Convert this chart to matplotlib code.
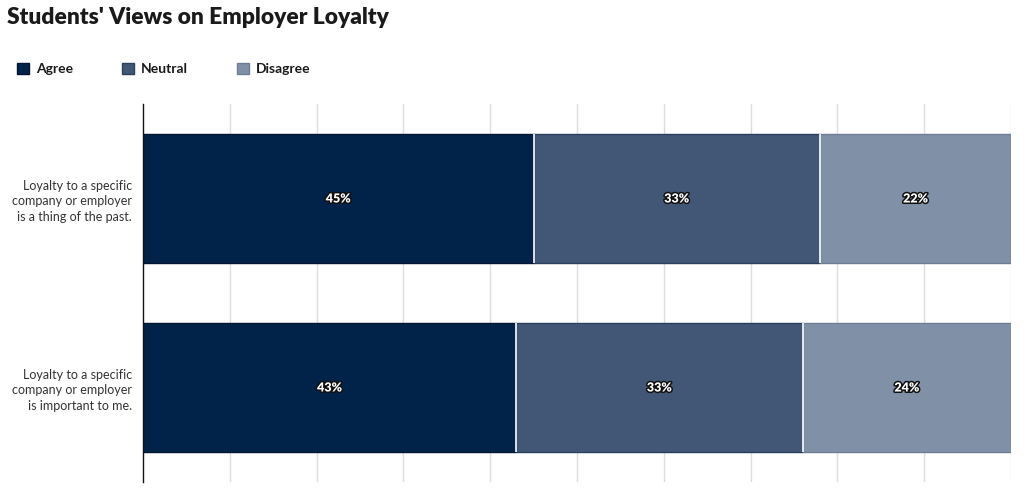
import numpy as np
import matplotlib.pyplot as plt
import matplotlib.patheffects as pe

# data
statements = ['Loyalty to a specific\ncompany or employer\nis a thing of the past.',
              'Loyalty to a specific\ncompany or employer\nis important to me.']
responses = ['Agree', 'Neutral', 'Disagree']
agree = [45, 43]
neutral = [33, 33]
disagree = [22, 24]

colors = ['#012349', '#425775', '#8090a6']
edges = ['#001433', '#2b3f60', '#6d7d95']

plt.rcParams['font.family'] = ['Lato', 'DejaVu Sans']

fig = plt.figure(figsize=(10.24, 4.92), dpi=100)
ax = fig.add_axes([0.1396, 0.0203, 0.8477, 0.7683])

y = np.arange(len(statements))
left = np.zeros(len(statements))
for vals, name, c, ec in zip([agree, neutral, disagree], responses, colors, edges):
    vals = np.array(vals)
    bars = ax.barh(y, vals, left=left, height=0.68, color=c, edgecolor=ec,
                   linewidth=1, label=name, zorder=2)
    for b, v in zip(bars, vals):
        ax.text(b.get_x() + b.get_width() / 2, b.get_y() + b.get_height() / 2,
                f'{v}%', ha='center', va='center', color='white',
                fontsize=9, fontweight='heavy', zorder=4,
                path_effects=[pe.withStroke(linewidth=2.2, foreground='#111111')])
    left = left + vals
    # thin white gap between segments
    if name != responses[-1]:
        ax.vlines(left, y - 0.34, y + 0.34, colors='white', linewidth=1.2, zorder=3)

ax.set_xlim(0, 100)
ax.set_ylim(1.5, -0.5)
ax.set_xticks(np.arange(10, 101, 10))
ax.xaxis.grid(True, color='#dddddd', linewidth=1, zorder=0)
ax.set_axisbelow(True)
ax.tick_params(axis='x', length=0, labelbottom=False)
ax.tick_params(axis='y', length=0, pad=8)
ax.set_yticks(y)
ax.set_yticklabels(statements, fontsize=9, color='#333333', linespacing=1.35)
for s in ['top', 'right', 'bottom']:
    ax.spines[s].set_visible(False)
ax.spines['left'].set_color('#111111')
ax.spines['left'].set_linewidth(1)

fig.text(0.007, 0.965, "Students' Views on Employer Loyalty", fontsize=16.4,
         fontweight='heavy', color='#1a1a1a', va='center', ha='left')

handles, labels = ax.get_legend_handles_labels()
leg = fig.legend(handles, labels, loc='center left', bbox_to_anchor=(0.004, 0.86),
                 ncol=3, frameon=False, fontsize=10, handlelength=0.9,
                 handleheight=0.9, handletextpad=0.5, columnspacing=3.5)
for t in leg.get_texts():
    t.set_fontweight('bold')
    t.set_color('#1a1a1a')

fig.savefig('out.png', dpi=100)
